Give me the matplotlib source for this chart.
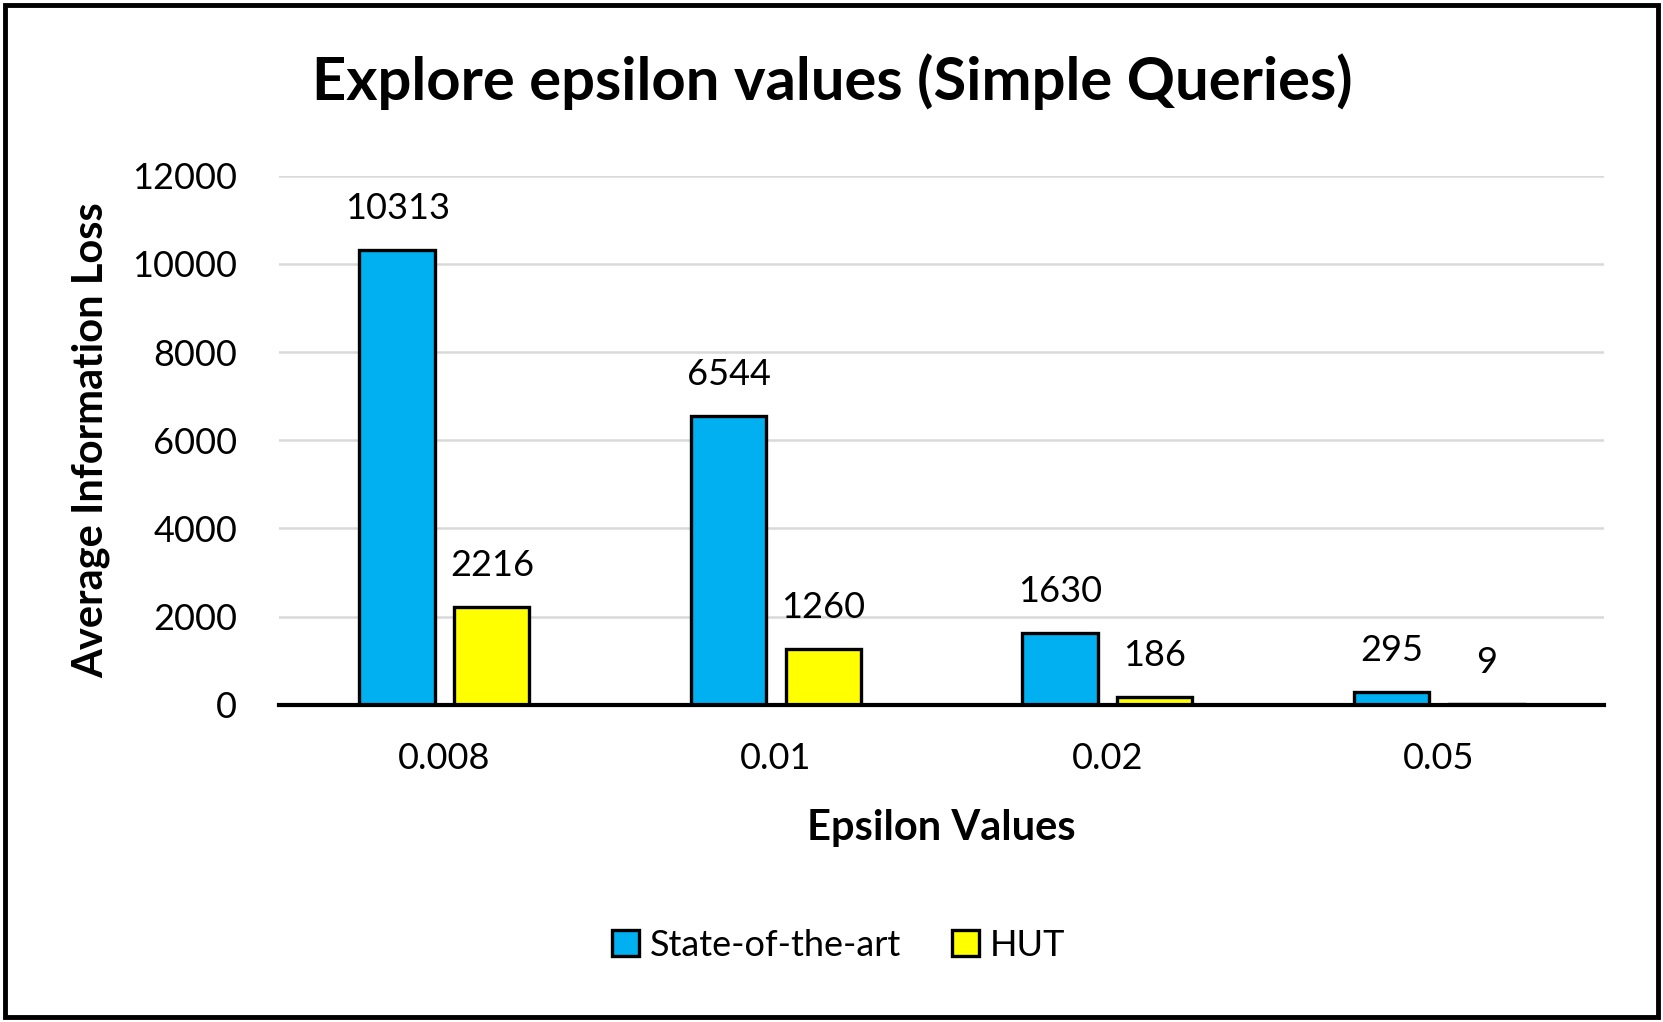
import matplotlib
matplotlib.use("Agg")
import matplotlib.pyplot as plt
from matplotlib.patches import Rectangle
import numpy as np

categories = ["0.008", "0.01", "0.02", "0.05"]
state_of_art = [10313, 6544, 1630, 295]
hut = [2216, 1260, 186, 9]
series_names = ["State-of-the-art", "HUT"]
yticks = [0, 2000, 4000, 6000, 8000, 10000, 12000]

plt.rcParams['font.family'] = ['Lato', 'DejaVu Sans']

W, H = 1563.0, 960.0
fig = plt.figure(figsize=(16.63, 10.22), dpi=100)
fig.patch.set_facecolor("white")

ax = fig.add_axes([262 / W, 1 - 662 / H, (1508 - 262) / W, (662 - 165) / H])

x = np.arange(len(categories))
bw = 0.227
off = 0.143
b1 = ax.bar(x - off, state_of_art, bw, color="#00B0F0", edgecolor="black",
            linewidth=2.4, label=series_names[0], zorder=3)
b2 = ax.bar(x + off, hut, bw, color="#FFFF00", edgecolor="black",
            linewidth=2.4, label=series_names[1], zorder=3)

ax.bar_label(b1, labels=[str(v) for v in state_of_art], padding=18, fontsize=26)
ax.bar_label(b2, labels=[str(v) for v in hut], padding=18, fontsize=26)

ax.set_xlim(-0.5, len(categories) - 0.5)
ax.set_ylim(0, 12000)
ax.set_yticks(yticks)
ax.set_yticklabels([str(t) for t in yticks], fontsize=26)
ax.set_xticks(x)
ax.set_xticklabels(categories, fontsize=26)
ax.tick_params(axis='both', length=0)
ax.tick_params(axis='y', pad=30)
ax.tick_params(axis='x', pad=27)

ax.grid(axis='y', color="#D9D9D9", linewidth=1.8, zorder=0)
ax.set_axisbelow(True)
for s in ["top", "right", "left"]:
    ax.spines[s].set_visible(False)
ax.spines["bottom"].set_linewidth(3)
ax.spines["bottom"].set_color("black")
ax.spines["bottom"].set_zorder(4)

ax.set_xlabel("Epsilon Values", fontsize=30, fontweight="bold", labelpad=24)
ax.set_ylabel("Average Information Loss", fontsize=30, fontweight="bold", labelpad=16)

fig.text(782 / W, 1 - 77 / H, "Explore epsilon values (Simple Queries)",
         ha="center", va="center", fontsize=43, fontweight="bold")

leg = fig.legend(handles=[b1, b2], labels=series_names, loc="center",
                 bbox_to_anchor=(788 / W, 1 - 888 / H), ncol=2, frameon=False,
                 fontsize=26, handlelength=0.75, handleheight=0.75,
                 handletextpad=0.3, columnspacing=1.4)

fig.patches.append(Rectangle((5 / W, 5 / H), (1558 - 5) / W, (955 - 5) / H,
                             transform=fig.transFigure, fill=False,
                             edgecolor="black", linewidth=3.5))

fig.savefig("out.png", dpi=100)
